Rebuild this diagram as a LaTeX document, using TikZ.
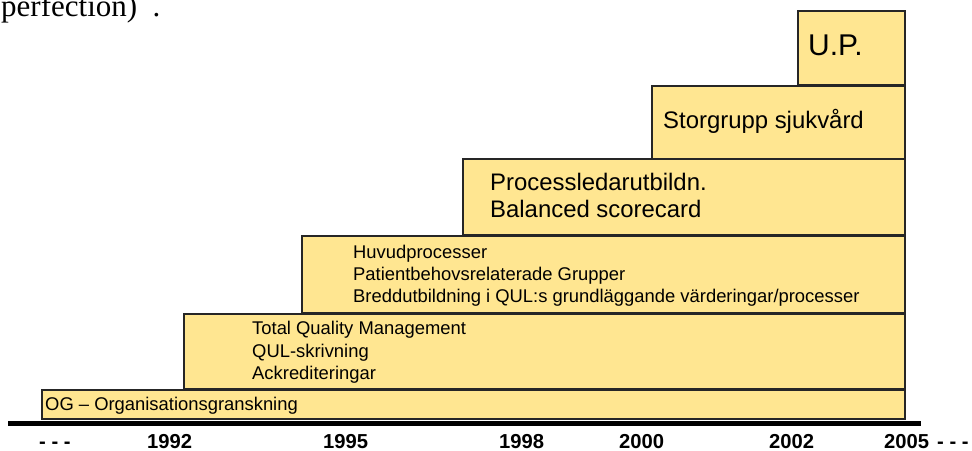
\documentclass[tikz,border=0pt]{standalone}
\usepackage{fontspec}
\setmainfont{Liberation Sans}
\newfontfamily\serifface{Liberation Serif}
\definecolor{boxfill}{RGB}{255,230,145}
\tikzset{
  stair/.style={draw=black!85, line width=1.1pt, fill=boxfill, inner sep=0pt, outer sep=0pt, anchor=north west},
  small/.style={inner sep=0pt, anchor=base west, font=\fontsize{18.4}{22}\selectfont},
  mid/.style={inner sep=0pt, anchor=base west, font=\fontsize{23.9}{27}\selectfont},
  big/.style={inner sep=0pt, anchor=base west, font=\fontsize{30}{34}\selectfont},
  year/.style={inner sep=0pt, anchor=base west, font=\fontsize{20.2}{22}\selectfont\bfseries}
}
\begin{document}
\begin{tikzpicture}[x=1pt,y=-1pt]
\useasboundingbox (0,0) rectangle (972,450);
% stairs
\node[stair, minimum width=863pt, minimum height=29pt] (og) at (42,390) {};
\node[stair, minimum width=721pt, minimum height=75pt] (tqm) at (184,314) {};
\node[stair, minimum width=603pt, minimum height=77pt] (huv) at (302,236) {};
\node[stair, minimum width=442pt, minimum height=76pt] (proc) at (463,159) {};
\node[stair, minimum width=253pt, minimum height=73pt] (stor) at (652,86) {};
\node[stair, minimum width=107pt, minimum height=74pt] (up) at (798,11) {};
% base line
\coordinate (l0) at (8,423);
\coordinate (l1) at (921,423);
\draw[line width=5pt] (l0) -- (l1);
% texts
\node[small] (t1) at (45,410) {OG -- Organisationsgranskning};
\node[small] (t2a) at (252,334) {Total Quality Management};
\node[small] (t2b) at (252,357) {QUL-skrivning};
\node[small] (t2c) at (252,379) {Ackrediteringar};
\node[small] (t3a) at (353,258) {Huvudprocesser};
\node[small] (t3b) at (353,280) {Patientbehovsrelaterade Grupper};
\node[small] (t3c) at (353,302) {Breddutbildning i QUL:s grundläggande värderingar/processer};
\node[mid] (t4a) at (490,190) {Processledarutbildn.};
\node[mid] (t4b) at (490,217) {Balanced scorecard};
\node[mid] (t5) at (663,128) {Storgrupp sjukvård};
\node[big] (t6) at (808,55) {U.P.};
\node[inner sep=0pt, anchor=base west, font=\serifface\fontsize{31}{34}\selectfont] (perf) at (1,16.5) {perfection)\hspace{0.5em}.};
% years
\node[year] (d0) at (39,448) {- - -};
\node[year] (y92) at (147,448) {1992};
\node[year] (y95) at (323,448) {1995};
\node[year] (y98) at (499,448) {1998};
\node[year] (y00) at (619,448) {2000};
\node[year] (y02) at (769,448) {2002};
\node[year] (y05) at (884,448) {2005};
\node[year] (d1) at (937,448) {- - -};
\end{tikzpicture}
\end{document}
